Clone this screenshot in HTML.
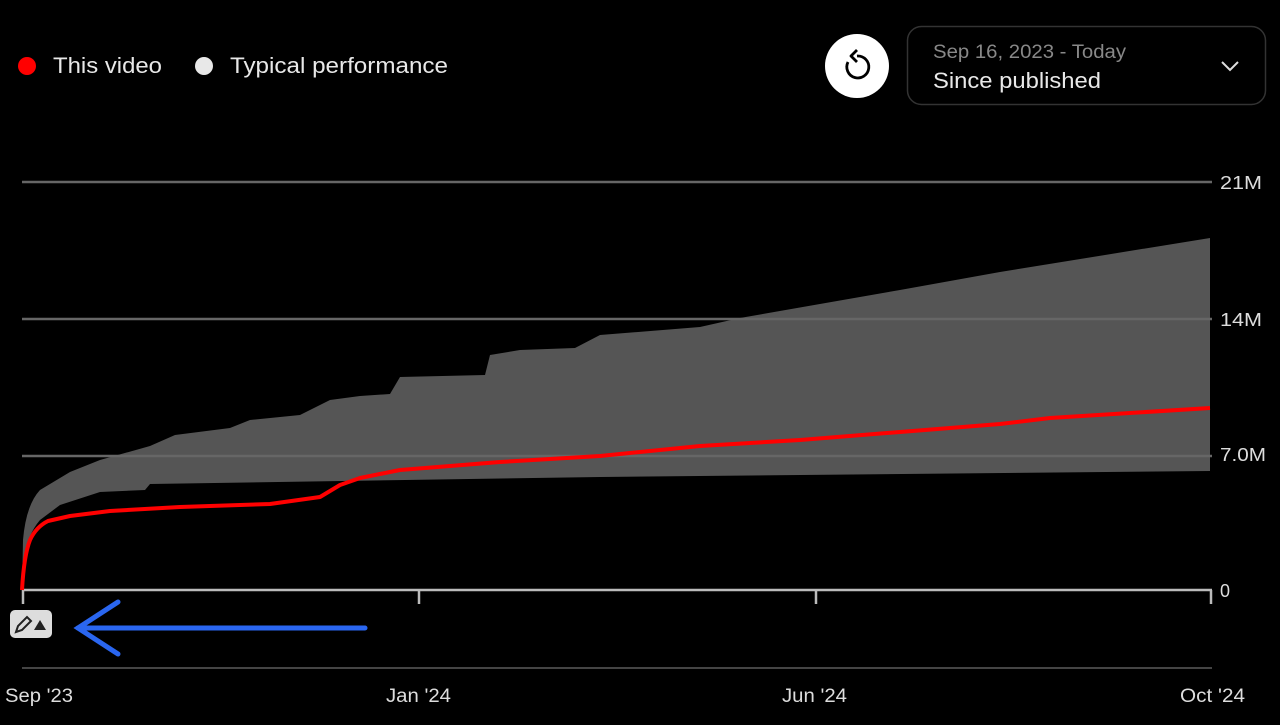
<!DOCTYPE html>
<html><head><meta charset="utf-8"><style>
html,body{margin:0;padding:0;background:#000;}
body{width:1280px;height:720px;overflow:hidden;font-family:"Liberation Sans",sans-serif;}
</style></head><body>
<svg width="1280" height="720" viewBox="0 0 1280 720" xmlns="http://www.w3.org/2000/svg" font-family="Liberation Sans, sans-serif">
<rect width="1280" height="720" fill="#000"/>
<!-- legend -->
<circle cx="27" cy="66" r="9" fill="#ff0000"/>
<text x="53" y="73" fill="#e8e8e8" font-size="22" textLength="109" lengthAdjust="spacingAndGlyphs">This video</text>
<circle cx="204" cy="66" r="9" fill="#e8e8e8"/>
<text x="230" y="73" fill="#e8e8e8" font-size="22" textLength="218" lengthAdjust="spacingAndGlyphs">Typical performance</text>
<!-- reset button -->
<circle cx="857" cy="66" r="32" fill="#fff"/>
<path d="M848,62 A11,11 0 1 0 857,56" fill="none" stroke="#000" stroke-width="2.8"/>
<path d="M857,50 L851,56 L857,62" fill="none" stroke="#000" stroke-width="2.8" stroke-linejoin="round"/>
<!-- dropdown -->
<rect x="907.5" y="26.5" width="358" height="78" rx="14" fill="#000" stroke="#333" stroke-width="1.5"/>
<text x="933" y="58" fill="#888" font-size="19" textLength="193" lengthAdjust="spacingAndGlyphs">Sep 16, 2023 - Today</text>
<text x="933" y="88" fill="#e8e8e8" font-size="22" textLength="168" lengthAdjust="spacingAndGlyphs">Since published</text>
<path d="M1222,62 L1230,70 L1238,62" fill="none" stroke="#ddd" stroke-width="2"/>
<!-- band -->
<path d="M22,590 L23,540 Q26,505 40,490 L70,472 L100,460 L150,446 L175,435 L230,428 L250,420 L300,415 L330,400 L360,396 L390,394 L400,377 L485,375 L490,355 L520,350 L575,348 L600,335 L700,327 L740,318 L900,290 L1000,272 L1210,238 L1210,471 L600,477 L150,484 L145,490 L100,492 L60,505 L40,520 Q27,535 24,560 Z" fill="#555"/>
<!-- grid -->
<g stroke="#666" stroke-width="2.5">
<line x1="22" y1="182" x2="1212" y2="182"/>
<line x1="22" y1="319" x2="1212" y2="319"/>
<line x1="22" y1="456" x2="1212" y2="456"/>
</g>
<line x1="22" y1="590" x2="1212" y2="590" stroke="#bbb" stroke-width="2.5"/>
<g stroke="#bbb" stroke-width="2.5"><line x1="23" y1="590" x2="23" y2="604"/><line x1="419" y1="590" x2="419" y2="604"/><line x1="816" y1="590" x2="816" y2="604"/><line x1="1211" y1="590" x2="1211" y2="604"/></g>
<line x1="22" y1="668" x2="1212" y2="668" stroke="#444" stroke-width="2"/>
<!-- red -->
<path d="M22,590 Q24,555 30,540 Q36,527 48,521 L70,516 L110,511 L180,507 L270,504 L320,497 L340,485 L360,478 L400,470 L500,462 L600,456 L700,446 L800,440 L900,432 L1000,424 L1050,418 L1210,408" fill="none" stroke="#ff0000" stroke-width="4" stroke-linejoin="round"/>
<!-- y labels -->
<g fill="#ddd" font-size="18">
<text x="1220" y="189" textLength="42" lengthAdjust="spacingAndGlyphs">21M</text>
<text x="1220" y="326" textLength="42" lengthAdjust="spacingAndGlyphs">14M</text>
<text x="1220" y="461" textLength="46" lengthAdjust="spacingAndGlyphs">7.0M</text>
<text x="1220" y="597">0</text>
</g>
<g fill="#ddd" font-size="19">
<text x="5" y="702" textLength="68" lengthAdjust="spacingAndGlyphs">Sep '23</text>
<text x="386" y="702" textLength="65" lengthAdjust="spacingAndGlyphs">Jan '24</text>
<text x="782" y="702" textLength="65" lengthAdjust="spacingAndGlyphs">Jun '24</text>
<text x="1180" y="702" textLength="65" lengthAdjust="spacingAndGlyphs">Oct '24</text>
</g>
<!-- icon -->
<rect x="10" y="610" width="42" height="28" rx="5" fill="#ddd"/>
<path d="M16,632 L18,626 L27,617 L31,621 L22,630 Z" fill="none" stroke="#222" stroke-width="2"/>
<path d="M34,630 L40,620 L46,630 Z" fill="#222"/>
<!-- arrow -->
<g stroke="#2a66f0" stroke-width="5" stroke-linecap="round" fill="none">
<line x1="78" y1="628" x2="365" y2="628"/>
<path d="M118,602 L78,628 L118,654"/>
</g>
</svg>
</body></html>
